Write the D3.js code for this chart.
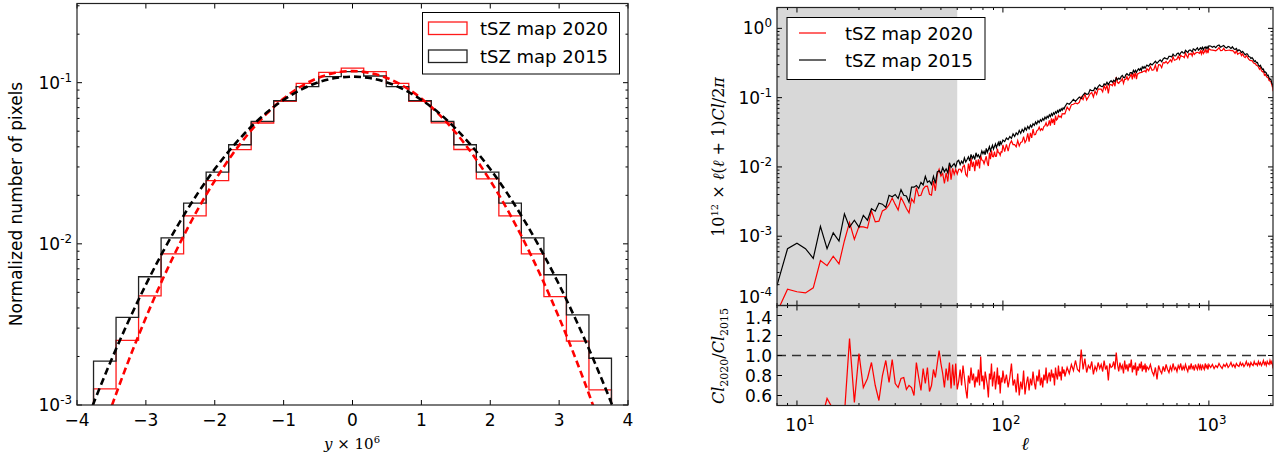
<!DOCTYPE html>
<html><head><meta charset="utf-8">
<script src="https://cdn.jsdelivr.net/npm/d3@7"></script>
<style>body{margin:0;background:#fff}svg{display:block}</style>
</head><body><svg id="c" width="1281" height="460"></svg>
<script>
// ---------------- DATA ----------------
const binEdges = [-3.76,-3.433,-3.106,-2.779,-2.452,-2.125,-1.798,-1.471,-1.144,-0.817,-0.49,-0.163,0.163,0.49,0.817,1.144,1.471,1.798,2.125,2.452,2.779,3.106,3.433,3.76];
const hist2020 = [0.00126,0.00252,0.00475,0.00867,0.0149,0.0247,0.0384,0.0562,0.0765,0.099,0.116,0.123,0.117,0.099,0.0765,0.0563,0.0385,0.0253,0.0149,0.00867,0.0047,0.00249,0.00124];
const hist2015 = [0.00187,0.0035,0.00625,0.0109,0.0179,0.0279,0.0412,0.0575,0.0773,0.0945,0.109,0.117,0.110,0.0945,0.0775,0.0575,0.0412,0.0279,0.0179,0.0109,0.00643,0.00362,0.00195];
const fitX = [-4,-3.75,-3.5,-3.25,-3,-2.75,-2.5,-2.25,-2,-1.75,-1.5,-1.25,-1,-0.75,-0.5,-0.25,0,0.25,0.5,0.75,1,1.25,1.5,1.75,2,2.25,2.5,2.75,3,3.25,3.5,3.75,4];
const fit2015 = [0.000553,0.00105,0.00191,0.00333,0.00558,0.00897,0.01384,0.0205,0.0291,0.0396,0.0518,0.0651,0.0783,0.0905,0.1004,0.1068,0.109,0.1068,0.1004,0.0905,0.0783,0.0651,0.0518,0.0396,0.0291,0.0205,0.01384,0.00897,0.00558,0.00333,0.00191,0.00105,0.000553];
const fit2020 = [0.000224,0.000479,0.000975,0.00189,0.00348,0.00611,0.01021,0.01626,0.02465,0.0356,0.0489,0.0640,0.0798,0.0947,0.1070,0.1151,0.118,0.1151,0.1070,0.0947,0.0798,0.0640,0.0489,0.0356,0.02465,0.01626,0.01021,0.00611,0.00348,0.00189,0.000975,0.000479,0.000224];
const histXTicks = [-4,-3,-2,-1,0,1,2,3,4];

const ellLow = [8,9,10,11,12,13,14,15,16,17,18,19,20,21,22,23,24,25,26,27,28,29,30,31,32,33,34,35,36,37,38,39,40,41,42,43,44,45,46,47,48,49,50,51,52,53,54,55,56,57,58,59,60];
const cl2015Low = [1.95e-4,6.6e-4,7.9e-4,6.6e-4,4.8e-4,1.39e-3,6.6e-4,1.12e-3,8.5e-4,2.1e-3,1.35e-3,1.7e-3,1.35e-3,2.0e-3,1.7e-3,2.5e-3,2.3e-3,3.0e-3,2.9e-3,2.6e-3,3.9e-3,3.7e-3,4.0e-3,3.5e-3,4.7e-3,3.9e-3,3.8e-3,3.1e-3,5.1e-3,5.1e-3,5.4e-3,4.9e-3,6.0e-3,5.5e-3,7.3e-3,6.0e-3,6.3e-3,5.6e-3,7.3e-3,5.8e-3,8.5e-3,8.8e-3,8.0e-3,9.8e-3,8.5e-3,9.4e-3,8.2e-3,1.15e-2,9.8e-3,1.05e-2,1.12e-2,1.0e-2,1.2e-2];
const ratioLow = [0.41,0.26,0.20,0.23,0.375,0.32,0.57,0.46,0.47,0.41,1.17,0.53,1.02,0.68,0.77,0.93,0.70,0.55,0.80,0.95,0.73,0.96,0.72,0.68,0.77,0.78,0.66,0.70,0.68,0.60,0.93,0.78,0.65,0.87,0.72,0.88,0.64,0.70,0.86,0.78,0.92,1.05,0.92,0.82,0.68,0.87,0.75,0.93,0.67,0.91,0.70,0.92,0.66];

const ellHigh = [61,62,63,64,65,66,67,68,69,70,71,72,73,74,75,76,77,78,79,80,81,82,83,84,85,86,87,88,89,90,91,92,93,94,95,96,97,98,99,100,
102,104,106,108,110,112,114,116,118,120,122,124,126,128,130,132,134,136,138,140,142,144,146,148,150,152,154,156,158,160,162,164,166,168,170,172,174,176,178,180,182,184,186,188,190,192,194,196,198,200,
205,210,215,220,225,230,235,240,245,250,255,260,265,270,275,280,285,290,295,300,305,310,315,320,325,330,335,340,345,350,355,360,365,370,375,380,385,390,395,400,405,410,415,420,425,430,435,440,445,450,455,460,465,470,475,480,485,490,495,500,
510,520,530,540,550,560,570,580,590,600,610,620,630,640,650,660,670,680,690,700,710,720,730,740,750,760,770,780,790,800,810,820,830,840,850,860,870,880,890,900,910,920,930,940,950,960,970,980,990,1000,
1020,1040,1060,1080,1100,1120,1140,1160,1180,1200,1220,1240,1260,1280,1300,1320,1340,1360,1380,1400,1420,1440,1460,1480,1500,1520,1540,1560,1580,1600,1620,1640,1660,1680,1700,1720,1740,1760,1780,1800,1820,1840,1860,1880,1900,1920,1940,1960,1980,2000,2020,2040,2048];
const cl2015High = [0.0125,0.0108,0.0121,0.0112,0.0135,0.0118,0.0128,0.0140,0.0122,0.0152,0.0133,0.0145,0.0128,0.0160,0.0141,0.0150,0.0136,0.0148,0.0170,0.0155,0.0168,0.0150,0.0185,0.0162,0.0178,0.0196,0.0170,0.0188,0.0205,0.0180,0.0198,0.0215,0.0190,0.0208,0.0226,0.0200,0.0238,0.0212,0.0225,0.0245,
0.0232,0.0262,0.0248,0.0275,0.0258,0.0300,0.0276,0.0310,0.0292,0.0335,0.0305,0.0348,0.0322,0.0368,0.0340,0.0385,0.0356,0.0402,0.0375,0.0420,0.0398,0.0445,0.0415,0.0462,0.0436,0.0480,0.0455,0.0500,0.0472,0.0525,0.0494,0.0540,0.0512,0.0565,0.0532,0.0585,0.0550,0.0605,0.0575,0.0625,0.0595,0.0650,0.0615,0.0668,0.0640,0.0690,0.0660,0.0712,0.0685,0.0740,
0.0832,0.0805,0.0869,0.0943,0.0884,0.0950,0.1020,0.0968,0.1091,0.1166,0.1117,0.1133,0.1305,0.1260,0.1261,0.1394,0.1311,0.1438,0.1526,0.1455,0.1440,0.1576,0.1529,0.1670,0.1532,0.1677,0.1758,0.1668,0.1785,0.1701,0.1929,0.1813,0.1909,0.1843,0.2009,0.2090,0.1959,0.1936,0.2132,0.2215,0.2138,0.2090,0.2297,0.2293,0.2208,0.2480,0.2323,0.2482,0.2318,0.2480,0.2610,0.2474,0.2632,0.2463,0.2783,0.2663,0.2802,0.2650,0.2818,0.2943,
0.2842,0.3089,0.2959,0.3151,0.3350,0.3130,0.3330,0.3502,0.3297,0.3621,0.3765,0.3653,0.3610,0.3955,0.3949,0.3861,0.4242,0.4018,0.3994,0.4304,0.4408,0.4123,0.4444,0.4628,0.4410,0.4404,0.4820,0.4630,0.4483,0.4804,0.4893,0.4742,0.4589,0.5065,0.4949,0.4792,0.5069,0.5250,0.4829,0.5009,0.5243,0.5018,0.5356,0.4921,0.5262,0.5397,0.5112,0.5406,0.5117,0.5574,
0.5562,0.5331,0.5525,0.5270,0.5620,0.5741,0.5354,0.5510,0.5655,0.5351,0.5203,0.5488,0.5383,0.5112,0.5418,0.5089,0.4959,0.5129,0.4704,0.4906,0.4767,0.4481,0.4656,0.4376,0.4147,0.4294,0.4274,0.3920,0.3890,0.3667,0.3780,0.3596,0.3312,0.3407,0.3198,0.3214,0.2950,0.2823,0.2922,0.2710,0.2558,0.2585,0.2323,0.2343,0.2275,0.2076,0.2112,0.1940,0.1833,0.1851,0.1630,0.1535,0.1420];
const ratioHigh = [0.74,0.86,0.70,0.90,0.78,0.66,0.57,0.80,0.72,0.88,0.75,0.82,0.68,0.79,0.73,0.86,0.70,0.99,0.74,0.80,0.66,0.84,0.77,0.70,0.58,0.82,0.76,0.92,0.69,0.78,0.84,0.66,0.75,0.88,0.71,0.80,0.62,0.78,0.73,0.85,
0.72,0.81,0.68,0.78,0.92,0.70,0.76,0.63,0.82,0.60,0.74,0.66,0.85,0.61,0.72,0.79,0.65,0.77,0.70,0.84,0.73,0.66,0.80,0.74,0.86,0.70,0.78,0.68,0.81,0.75,0.88,0.72,0.79,0.83,0.74,0.86,0.78,0.82,0.70,0.88,0.80,0.76,0.90,0.79,0.84,0.75,0.89,0.82,0.86,0.79,
0.88,0.82,0.91,0.85,0.95,0.86,0.84,1.06,0.86,0.97,0.83,0.90,0.87,0.94,0.81,0.89,0.85,0.93,0.87,0.91,0.84,0.95,0.86,0.90,0.75,0.92,0.88,0.89,0.94,0.86,1.03,0.91,0.84,0.93,0.87,0.90,0.82,0.95,0.86,0.91,0.84,0.92,0.88,0.96,0.83,0.90,0.86,0.93,0.80,0.89,0.85,0.92,0.87,0.94,0.84,0.90,0.86,0.92,0.83,0.89,
0.86,0.91,0.84,0.80,0.88,0.76,0.90,0.85,0.82,0.89,0.84,0.91,0.86,0.83,0.89,0.85,0.92,0.86,0.88,0.84,0.90,0.87,0.92,0.85,0.89,0.86,0.91,0.87,0.84,0.90,0.86,0.92,0.87,0.89,0.85,0.91,0.88,0.86,0.92,0.87,0.90,0.85,0.91,0.88,0.86,0.92,0.88,0.90,0.86,0.91,
0.88,0.91,0.87,0.90,0.88,0.92,0.89,0.87,0.91,0.89,0.92,0.88,0.90,0.93,0.89,0.91,0.88,0.92,0.90,0.89,0.93,0.90,0.92,0.89,0.91,0.94,0.90,0.92,0.89,0.93,0.91,0.90,0.94,0.91,0.92,0.90,0.94,0.91,0.93,0.90,0.92,0.95,0.91,0.93,0.90,0.94,0.92,0.91,0.95,0.92,0.94,0.90,0.87];
const ratioTicks = [0.6,0.8,1.0,1.2,1.4];
const shadeRange = [8, 60];

// ---------------- DRAW ----------------
const svg = d3.select("#c");
const SANS = '"DejaVu Sans", sans-serif';
const SERIF = '"DejaVu Serif", serif';
const defs = svg.append("defs");

function clip(id, x0, y0, x1, y1){
  defs.append("clipPath").attr("id", id).append("rect").attr("x", x0).attr("y", y0).attr("width", x1-x0).attr("height", y1-y0);
}
function tickLines(g, list, orient, a, b, len){
  list.forEach(p => {
    if (orient === 'x') {
      g.append("line").attr("x1", p).attr("x2", p).attr("y1", a).attr("y2", a+len);
      g.append("line").attr("x1", p).attr("x2", p).attr("y1", b).attr("y2", b-len);
    } else {
      g.append("line").attr("y1", p).attr("y2", p).attr("x1", a).attr("x2", a+len);
      g.append("line").attr("y1", p).attr("y2", p).attr("x1", b).attr("x2", b-len);
    }
  });
}
function powLabel(g, x, y, base, exp, anchor, fs){
  const t = g.append("text").attr("x", x).attr("y", y).attr("text-anchor", anchor)
    .attr("font-family", SANS).attr("font-size", fs).attr("fill", "#000");
  t.append("tspan").text(base);
  t.append("tspan").attr("dy", -7).attr("font-size", fs*0.7).text(exp);
  return t;
}
function logMinors(lo, hi){
  const out = [];
  for (let e = Math.floor(Math.log10(lo)); e <= Math.ceil(Math.log10(hi)); e++){
    for (let k = 2; k <= 9; k++){ const v = k*Math.pow(10,e); if (v > lo*1.0001 && v < hi*0.9999) out.push(v); }
  }
  return out;
}

// ===== LEFT PANEL =====
const L = {x0:77, x1:628, y0:3.5, y1:405};
const xL = d3.scaleLinear().domain([-4,4]).range([L.x0, L.x1]);
const yL = d3.scaleLog().domain([1e-3, 0.31]).range([L.y1, L.y0]);
clip("clipL", L.x0, L.y0, L.x1, L.y1);
const gL = svg.append("g");
const gLd = gL.append("g").attr("clip-path", "url(#clipL)");

function histPts(vals){
  const pts = [[binEdges[0], 1e-5]];
  vals.forEach((v,i) => { pts.push([binEdges[i], v]); pts.push([binEdges[i+1], v]); });
  pts.push([binEdges[vals.length], 1e-5]);
  return pts;
}
const lineL = d3.line().x(d => xL(d[0])).y(d => yL(d[1]));
gLd.append("path").attr("d", lineL(histPts(hist2020))).attr("fill","none").attr("stroke","#ff1a1a").attr("stroke-width",1.3);
gLd.append("path").attr("d", lineL(histPts(hist2015))).attr("fill","none").attr("stroke","#222").attr("stroke-width",1.3);
const fitLine = d3.line().x((d,i) => xL(fitX[i])).y(d => yL(d)).curve(d3.curveMonotoneX);
gLd.append("path").attr("d", fitLine(fit2020)).attr("fill","none").attr("stroke","#ff0000").attr("stroke-width",2.6).attr("stroke-dasharray","7,4");
gLd.append("path").attr("d", fitLine(fit2015)).attr("fill","none").attr("stroke","#000").attr("stroke-width",2.6).attr("stroke-dasharray","7,4");

const gLt = gL.append("g").attr("stroke","#000").attr("stroke-width",1);
tickLines(gLt, histXTicks.map(xL), 'x', L.y0, L.y1, 5);
tickLines(gLt, [1e-3,1e-2,1e-1].map(yL), 'y', L.x0, L.x1, 5);
tickLines(gLt, logMinors(1e-3, 0.31).map(yL), 'y', L.x0, L.x1, 2.5);
gL.append("rect").attr("x", L.x0).attr("y", L.y0).attr("width", L.x1-L.x0).attr("height", L.y1-L.y0)
  .attr("fill","none").attr("stroke","#222").attr("stroke-width",1.2);
histXTicks.forEach(v => {
  gL.append("text").attr("x", xL(v)).attr("y", 426).attr("text-anchor","middle").attr("font-family",SANS)
    .attr("font-size",17).text(v < 0 ? "\u2212" + Math.abs(v) : String(v));
});
[[1e-3,"-3"],[1e-2,"-2"],[1e-1,"-1"]].forEach(([v,e]) => powLabel(gL, 72, yL(v)+6, "10", e, "end", 17));
gL.append("text").attr("transform","translate(22,204) rotate(-90)").attr("text-anchor","middle")
  .attr("font-family",SANS).attr("font-size",17).text("Normalized number of pixels");
const xlab = gL.append("text").attr("x", 352).attr("y", 449).attr("text-anchor","middle").attr("font-family",SERIF).attr("font-size",15);
xlab.append("tspan").attr("font-style","italic").text("y");
xlab.append("tspan").text(" \u00d7 10");
xlab.append("tspan").attr("dy",-6).attr("font-size",10).text("6");
const lgL = gL.append("g");
lgL.append("rect").attr("x",422.5).attr("y",12.5).attr("width",197).attr("height",61.5).attr("fill","#fff").attr("stroke","#000").attr("stroke-width",1);
lgL.append("rect").attr("x",428.5).attr("y",22).attr("width",38.5).attr("height",12.5).attr("fill","none").attr("stroke","#ff1a1a").attr("stroke-width",1.3);
lgL.append("rect").attr("x",428.5).attr("y",50).attr("width",38.5).attr("height",12.5).attr("fill","none").attr("stroke","#222").attr("stroke-width",1.3);
lgL.append("text").attr("x",480).attr("y",34.5).attr("font-family",SANS).attr("font-size",18).text("tSZ map 2020");
lgL.append("text").attr("x",480).attr("y",62.8).attr("font-family",SANS).attr("font-size",18).text("tSZ map 2015");

// ===== RIGHT PANELS =====
const R = {x0:777, x1:1273, y0:7.5, ym:305.5, y1:405.5};
const xR = d3.scaleLog().domain([8, 2048]).range([R.x0, R.x1]);
const yT = d3.scaleLog().domain([1e-4, 2]).range([R.ym, R.y0]);
const yQ = d3.scaleLinear().domain([0.5, 1.5]).range([R.y1, R.ym]);
clip("clipT", R.x0, R.y0, R.x1, R.ym);
clip("clipQ", R.x0, R.ym, R.x1, R.y1);

const ell = ellLow.concat(ellHigh);
const cl2015 = cl2015Low.concat(cl2015High);
const ratio = ratioLow.concat(ratioHigh);
const n = Math.min(ell.length, cl2015.length, ratio.length);
const spec = d3.range(n).map(i => ({l: ell[i], b: cl2015[i], q: ratio[i], r: cl2015[i]*ratio[i]}));

const gR = svg.append("g");
gR.append("rect").attr("x", xR(shadeRange[0])).attr("y", R.y0).attr("width", xR(shadeRange[1])-xR(shadeRange[0])).attr("height", R.y1-R.y0).attr("fill","#d8d8d8");

const gT = gR.append("g").attr("clip-path","url(#clipT)");
gT.append("path").datum(spec).attr("d", d3.line().x(d=>xR(d.l)).y(d=>yT(d.r))).attr("fill","none").attr("stroke","#ff0000").attr("stroke-width",1.2);
gT.append("path").datum(spec).attr("d", d3.line().x(d=>xR(d.l)).y(d=>yT(d.b))).attr("fill","none").attr("stroke","#000").attr("stroke-width",1.2);

const gQ = gR.append("g").attr("clip-path","url(#clipQ)");
gQ.append("line").attr("x1",R.x0).attr("x2",R.x1).attr("y1",yQ(1)).attr("y2",yQ(1)).attr("stroke","#333").attr("stroke-width",1.4).attr("stroke-dasharray","9,6");
gQ.append("path").datum(spec).attr("d", d3.line().x(d=>xR(d.l)).y(d=>yQ(d.q))).attr("fill","none").attr("stroke","#ff0000").attr("stroke-width",1.25);

const gRt = gR.append("g").attr("stroke","#000").attr("stroke-width",1);
const xMaj = [10,100,1000].map(xR);
const xMin = logMinors(8, 2048).concat([8]).map(xR);
tickLines(gRt, xMaj, 'x', R.y0, R.ym, 5);
tickLines(gRt, xMin, 'x', R.y0, R.ym, 2.5);
tickLines(gRt, xMaj, 'x', R.ym, R.y1, 5);
tickLines(gRt, xMin, 'x', R.ym, R.y1, 2.5);
tickLines(gRt, [1e-4,1e-3,1e-2,1e-1,1].map(yT), 'y', R.x0, R.x1, 5);
tickLines(gRt, logMinors(1e-4, 2).map(yT), 'y', R.x0, R.x1, 2.5);
tickLines(gRt, ratioTicks.map(yQ), 'y', R.x0, R.x1, 5);
gR.append("rect").attr("x",R.x0).attr("y",R.y0).attr("width",R.x1-R.x0).attr("height",R.ym-R.y0).attr("fill","none").attr("stroke","#222").attr("stroke-width",1.2);
gR.append("rect").attr("x",R.x0).attr("y",R.ym).attr("width",R.x1-R.x0).attr("height",R.y1-R.ym).attr("fill","none").attr("stroke","#222").attr("stroke-width",1.2);

[[1e-4,"-4",-3],[1e-3,"-3",6],[1e-2,"-2",6],[1e-1,"-1",6],[1,"0",6]].forEach(([v,e,off]) => powLabel(gR, 772, yT(v)+off, "10", e, "end", 17));
ratioTicks.forEach(v => gR.append("text").attr("x",772).attr("y",yQ(v)+(v===1.4?8:6.5)).attr("text-anchor","end").attr("font-family",SANS).attr("font-size",17).text(d3.format(".1f")(v)));
[[10,"1"],[100,"2"],[1000,"3"]].forEach(([v,e]) => powLabel(gR, xR(v)+3, 431, "10", e, "middle", 17));

const yl = gR.append("text").attr("transform","translate(724,157) rotate(-90)").attr("text-anchor","middle").attr("font-family",SERIF).attr("font-size",16);
yl.append("tspan").text("10");
yl.append("tspan").attr("dy",-6).attr("font-size",10).text("12");
yl.append("tspan").attr("dy",6).text(" \u00d7 ");
yl.append("tspan").attr("font-style","italic").text("\u2113");
yl.append("tspan").text("(");
yl.append("tspan").attr("font-style","italic").text("\u2113");
yl.append("tspan").text(" + 1)");
yl.append("tspan").attr("font-style","italic").text("Cl");
yl.append("tspan").text("/2");
yl.append("tspan").attr("font-style","italic").text("\u03c0");

const ql = gR.append("text").attr("transform","translate(724,356) rotate(-90)").attr("text-anchor","middle").attr("font-family",SERIF).attr("font-size",16);
ql.append("tspan").attr("font-style","italic").text("Cl");
ql.append("tspan").attr("dy",4).attr("font-size",11).text("2020");
ql.append("tspan").attr("dy",-4).text("/");
ql.append("tspan").attr("font-style","italic").text("Cl");
ql.append("tspan").attr("dy",4).attr("font-size",11).text("2015");

gR.append("text").attr("x",1025).attr("y",450).attr("text-anchor","middle").attr("font-family",SERIF).attr("font-style","italic").attr("font-size",18).text("\u2113");

const lgR = gR.append("g");
lgR.append("rect").attr("x",787).attr("y",17.5).attr("width",198).attr("height",62).attr("fill","#fff").attr("stroke","#000").attr("stroke-width",1);
lgR.append("line").attr("x1",799).attr("x2",826).attr("y1",33).attr("y2",33).attr("stroke","#ff0000").attr("stroke-width",1.2);
lgR.append("line").attr("x1",799).attr("x2",826).attr("y1",60).attr("y2",60).attr("stroke","#000").attr("stroke-width",1.2);
lgR.append("text").attr("x",845).attr("y",39.5).attr("font-family",SANS).attr("font-size",18).text("tSZ map 2020");
lgR.append("text").attr("x",845).attr("y",66.5).attr("font-family",SANS).attr("font-size",18).text("tSZ map 2015");
</script></body></html>
